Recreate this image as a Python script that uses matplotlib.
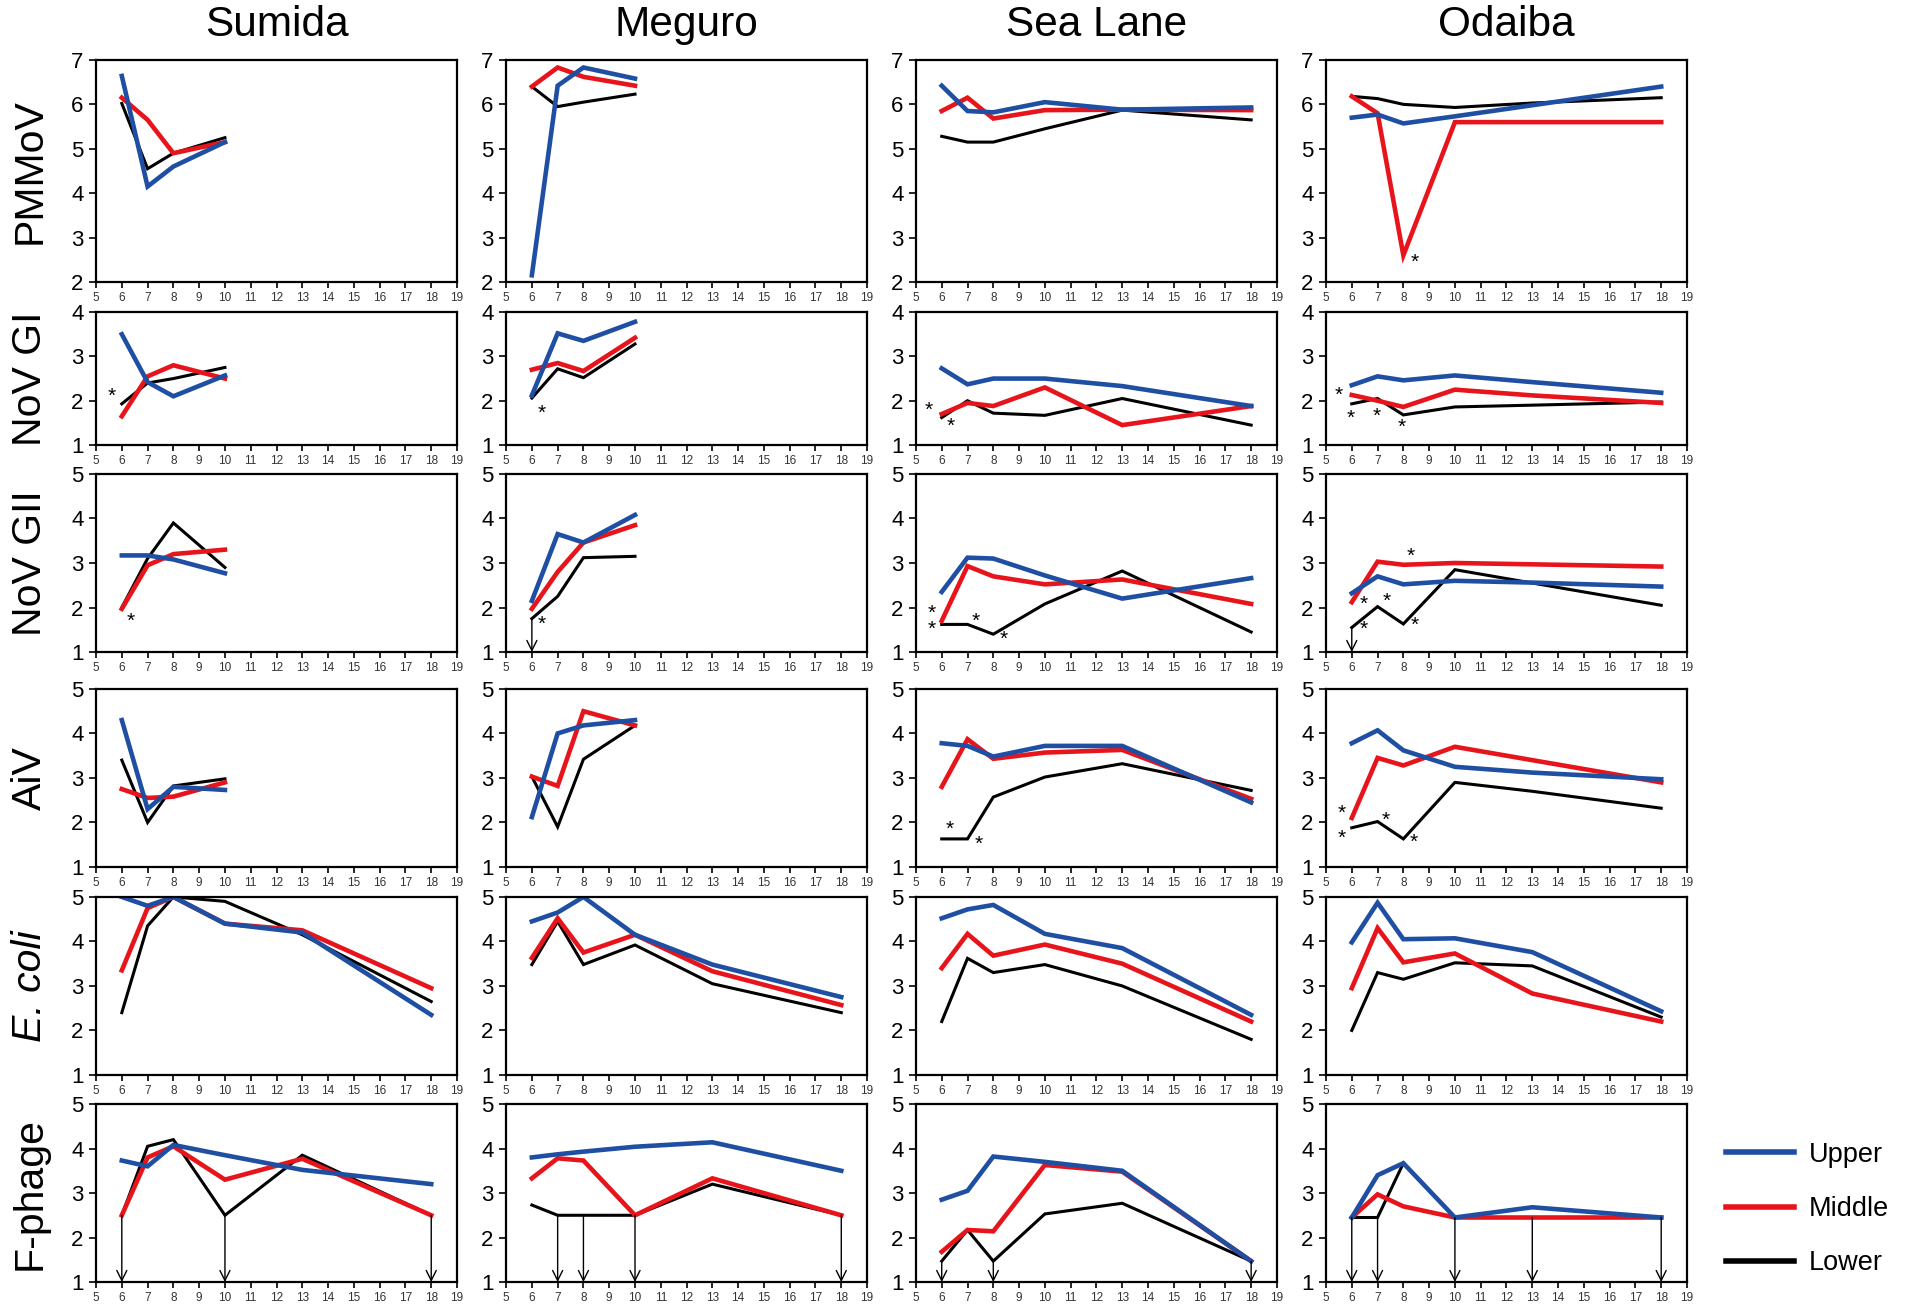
import matplotlib
matplotlib.use("Agg")
import matplotlib.pyplot as plt
from matplotlib.lines import Line2D

plt.rcParams["font.family"] = ["Liberation Sans", "DejaVu Sans"]

sites = ["Sumida", "Meguro", "Sea Lane", "Odaiba"]
targets = ["PMMoV", "NoV GI", "NoV GII", "AiV", "E. coli", "F-phage"]
levels = ["Upper", "Middle", "Lower"]
ylims = [(2, 7), (1, 4), (1, 5), (1, 5), (1, 5), (1, 5)]

x_short = [6, 7, 8, 10]
x_long = [6, 7, 8, 10, 13, 18]

# (upper, middle, lower) log values read per panel
sumida_pmmov = ([6.64, 4.15, 4.6, 5.15], [6.15, 5.65, 4.9, 5.15], [6.02, 4.55, 4.9, 5.25])
sumida_gi = ([3.5, 2.42, 2.1, 2.57], [1.65, 2.55, 2.8, 2.5], [1.93, 2.4, 2.5, 2.75])
sumida_gii = ([3.17, 3.17, 3.08, 2.77], [1.97, 2.95, 3.2, 3.3], [2.0, 3.1, 3.9, 2.9])
sumida_aiv = ([4.3, 2.3, 2.8, 2.73], [2.75, 2.55, 2.58, 2.9], [3.4, 2.0, 2.82, 2.98])
sumida_ecoli = ([5.0, 4.8, 5.0, 4.4, 4.2, 2.35], [3.35, 4.75, 5.0, 4.4, 4.25, 2.95], [2.4, 4.35, 5.0, 4.9, 4.15, 2.65])
sumida_fphage = ([3.73, 3.6, 4.08, 3.85, 3.52, 3.2], [2.5, 3.8, 4.05, 3.3, 3.77, 2.5], [2.5, 4.05, 4.2, 2.5, 3.85, 2.5])

meguro_pmmov = ([2.15, 6.42, 6.83, 6.58], [6.4, 6.83, 6.62, 6.42], [6.4, 5.95, 6.05, 6.23])
meguro_gi = ([2.12, 3.52, 3.35, 3.78], [2.7, 2.85, 2.67, 3.42], [2.06, 2.72, 2.52, 3.28])
meguro_gii = ([2.15, 3.65, 3.46, 4.08], [1.97, 2.8, 3.46, 3.85], [1.75, 2.25, 3.12, 3.15])
meguro_aiv = ([2.12, 4.0, 4.18, 4.3], [3.03, 2.82, 4.5, 4.18], [3.03, 1.9, 3.42, 4.18])
meguro_ecoli = ([4.45, 4.65, 5.0, 4.15, 3.48, 2.75], [3.63, 4.52, 3.75, 4.15, 3.33, 2.57], [3.48, 4.45, 3.48, 3.92, 3.05, 2.4])
meguro_fphage = ([3.8, 3.87, 3.93, 4.04, 4.14, 3.5], [3.33, 3.78, 3.73, 2.5, 3.33, 2.5], [2.73, 2.5, 2.5, 2.5, 3.2, 2.5])

sealane_pmmov = ([6.42, 5.85, 5.82, 6.05, 5.88, 5.93], [5.85, 6.15, 5.68, 5.87, 5.88, 5.87], [5.28, 5.15, 5.15, 5.45, 5.87, 5.65])
sealane_gi = ([2.73, 2.37, 2.5, 2.5, 2.33, 1.88], [1.7, 1.95, 1.88, 2.3, 1.45, 1.88], [1.62, 2.0, 1.72, 1.67, 2.05, 1.45])
sealane_gii = ([2.35, 3.12, 3.1, 2.72, 2.2, 2.66], [1.7, 2.93, 2.7, 2.52, 2.63, 2.08], [1.62, 1.62, 1.4, 2.08, 2.82, 1.45])
sealane_aiv = ([3.78, 3.72, 3.48, 3.72, 3.72, 2.45], [2.8, 3.87, 3.43, 3.57, 3.63, 2.53], [1.63, 1.63, 2.57, 3.02, 3.32, 2.72])
sealane_ecoli = ([4.52, 4.72, 4.82, 4.17, 3.85, 2.35], [3.4, 4.17, 3.68, 3.93, 3.5, 2.2], [2.2, 3.62, 3.3, 3.48, 3.0, 1.8])
sealane_fphage = ([2.85, 3.05, 3.82, 3.7, 3.5, 1.47], [1.68, 2.17, 2.14, 3.63, 3.48, 1.47], [1.47, 2.17, 1.47, 2.53, 2.77, 1.47])

odaiba_pmmov = ([5.7, 5.77, 5.57, 5.73, 5.98, 6.4], [6.18, 5.8, 2.6, 5.6, 5.6, 5.6], [6.18, 6.13, 6.0, 5.93, 6.03, 6.15])
odaiba_gi = ([2.35, 2.55, 2.46, 2.57, 2.42, 2.18], [2.13, 2.0, 1.86, 2.25, 2.12, 1.95], [1.93, 2.05, 1.68, 1.86, 1.9, 1.97])
odaiba_gii = ([2.32, 2.7, 2.52, 2.6, 2.56, 2.47], [2.12, 3.03, 2.96, 3.0, 2.97, 2.92], [1.55, 2.02, 1.63, 2.85, 2.55, 2.05])
odaiba_aiv = ([3.78, 4.07, 3.62, 3.25, 3.12, 2.97], [2.1, 3.45, 3.28, 3.7, 3.4, 2.9], [1.88, 2.02, 1.63, 2.9, 2.7, 2.32])
odaiba_ecoli = ([3.98, 4.87, 4.05, 4.07, 3.76, 2.43], [2.95, 4.3, 3.53, 3.73, 2.83, 2.2], [2.0, 3.3, 3.15, 3.52, 3.45, 2.3])
odaiba_fphage = ([2.45, 3.4, 3.67, 2.45, 2.68, 2.45], [2.45, 2.97, 2.7, 2.45, 2.45, 2.45], [2.45, 2.45, 3.67, 2.45, 2.45, 2.45])

panels = [
    [sumida_pmmov, meguro_pmmov, sealane_pmmov, odaiba_pmmov],
    [sumida_gi, meguro_gi, sealane_gi, odaiba_gi],
    [sumida_gii, meguro_gii, sealane_gii, odaiba_gii],
    [sumida_aiv, meguro_aiv, sealane_aiv, odaiba_aiv],
    [sumida_ecoli, meguro_ecoli, sealane_ecoli, odaiba_ecoli],
    [sumida_fphage, meguro_fphage, sealane_fphage, odaiba_fphage],
]

# significance marks (row, col): list of (x, y)
stars = {
    (1, 0): [(5.6, 2.1)],
    (2, 0): [(6.35, 1.7)],
    (1, 1): [(6.4, 1.72)],
    (2, 1): [(6.4, 1.62)],
    (1, 2): [(5.5, 1.78), (6.35, 1.42)],
    (2, 2): [(5.6, 1.88), (5.6, 1.52), (7.3, 1.7), (8.4, 1.28)],
    (3, 2): [(6.3, 1.85), (7.45, 1.5)],
    (0, 3): [(8.45, 2.45)],
    (1, 3): [(5.5, 2.12), (5.95, 1.6), (6.95, 1.64), (7.95, 1.4)],
    (2, 3): [(8.3, 3.15), (6.45, 2.08), (7.35, 2.13), (6.45, 1.5), (8.45, 1.6)],
    (3, 3): [(5.6, 2.2), (5.6, 1.65), (7.3, 2.05), (8.4, 1.55)],
}

# below detection limit arrows (row, col): x positions
arrows = {
    (5, 0): [6, 10, 18],
    (2, 1): [6],
    (5, 1): [7, 8, 10, 18],
    (5, 2): [6, 8, 18],
    (2, 3): [6],
    (5, 3): [6, 7, 10, 13, 18],
}

colors = {"Upper": "#1f4fa3", "Middle": "#e8141b", "Lower": "#000000"}
widths = {"Upper": 3.3, "Middle": 3.3, "Lower": 2.2}

col_left = [0.0503, 0.2651, 0.4798, 0.6946]
col_w = 0.1891
row_bottom = [0.7846, 0.6600, 0.5019, 0.3377, 0.1788, 0.0206]
row_h = [0.1696, 0.1016, 0.1360, 0.1360, 0.1360, 0.1360]

fig = plt.figure(figsize=(19.09, 13.09), dpi=100)

for r in range(6):
    for c in range(4):
        ax = fig.add_axes([col_left[c], row_bottom[r], col_w, row_h[r]])
        vals = panels[r][c]
        xs = x_short if len(vals[0]) == 4 else x_long
        for lev, ys in reversed(list(zip(levels, vals))):
            ax.plot(xs, ys, color=colors[lev], lw=widths[lev], solid_joinstyle="miter")
        for (sx, sy) in stars.get((r, c), []):
            ax.text(sx, sy, "*", fontsize=15, ha="center", va="center")
        lower = vals[2]
        for ax_x in arrows.get((r, c), []):
            y0 = lower[xs.index(ax_x)]
            ax.annotate("", xy=(ax_x, ylims[r][0]), xytext=(ax_x, y0),
                        arrowprops=dict(arrowstyle="->", lw=1.0, color="k",
                                        mutation_scale=18, shrinkA=0, shrinkB=0))
        ax.set_xlim(5, 19)
        ax.set_ylim(*ylims[r])
        ax.set_xticks(range(5, 20))
        ax.set_yticks(range(ylims[r][0], ylims[r][1] + 1))
        ax.tick_params(axis="x", labelsize=8.5, length=4, width=1.2, pad=3, labelcolor="#333333")
        ax.tick_params(axis="y", labelsize=16, length=5, width=1.2, pad=4)
        for s in ax.spines.values():
            s.set_linewidth(1.6)

for c, site in enumerate(sites):
    fig.text(col_left[c] + col_w / 2, 0.981, site, fontsize=30.5, ha="center", va="center")

for r, t in enumerate(targets):
    yc = row_bottom[r] + row_h[r] / 2
    style = "italic" if t == "E. coli" else "normal"
    fig.text(0.0157, yc, t, fontsize=29.5, rotation=90, ha="center", va="center", style=style)

handles = [Line2D([], [], color=colors[l], lw=4.0) for l in levels]
fig.legend(handles, levels, loc="center left", bbox_to_anchor=(0.897, 0.0764),
           frameon=False, fontsize=19.5, handlelength=2.5, labelspacing=1.05,
           handletextpad=0.55, borderpad=0)

fig.savefig("out.png", dpi=100)
